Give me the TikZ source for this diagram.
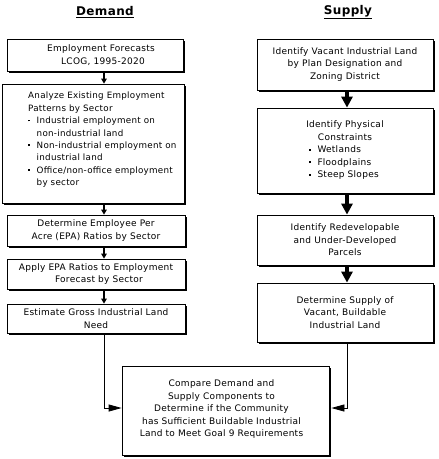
\documentclass[tikz,border=0pt]{standalone}
\usepackage{fontspec}
\setmainfont{DejaVu Sans}[LetterSpace=3]
\usetikzlibrary{arrows.meta,shadows,calc}
\newcommand{\bul}{\makebox[8.5pt][l]{\rule[2.3pt]{1.7pt}{1.7pt}}}
\begin{document}
\begin{tikzpicture}[x=1pt,y=-1pt,
  box/.style={draw=black, line width=0.8pt, fill=white,
    general shadow={fill=black, shadow xshift=2pt, shadow yshift=-2pt},
    align=center, inner sep=0pt,
    font=\fontsize{9}{12.5}\selectfont},
  txt/.style={align=left, inner sep=0pt, font=\fontsize{8.75}{12.4}\selectfont},
  title/.style={font=\fontsize{12}{13}\selectfont\bfseries, inner sep=0pt},
  sarrow/.style={line width=2.2pt, -{Triangle[width=5.5pt,length=5pt]}},
  barrow/.style={line width=3.5pt, -{Triangle[width=11pt,length=11pt]}},
  harrow/.style={line width=0.8pt, -{Triangle[width=7pt,length=13pt]}}]
\useasboundingbox (0,0) rectangle (439,459);

\node[title] (tD) at (105,12) {\underline{Demand}};
\node[title] (tS) at (348,12) {\underline{Supply}};

% Demand column
\node[box, minimum width=176pt, minimum height=32pt] (b1) at (95,55)
  {\hspace*{12pt}Employment Forecasts\\ \hspace*{16pt}LCOG, 1995-2020};
\node[box, minimum width=182pt, minimum height=119pt] (b2) at (93,143.5) {};
\node[txt, anchor=north west] (b2t) at (28,92)
  {Analyze Existing Employment\\
   Patterns by Sector\\
   \bul Industrial employment on\\
   \hspace*{8.5pt}non-industrial land\\
   \bul Non-industrial employment on\\
   \hspace*{8.5pt}industrial land\\
   \bul Office/non-office employment\\
   \hspace*{8.5pt}by sector};
\node[box, minimum width=178pt, minimum height=31pt] (b3) at (96,230.5)
  {Determine Employee Per\\ Acre (EPA) Ratios by Sector};
\node[box, minimum width=178pt, minimum height=30pt] (b4) at (96,274)
  {\raisebox{-2pt}{Apply EPA Ratios to Employment}\\
   \raisebox{-2pt}{\hspace*{6pt}Forecast by Sector}};
\node[box, minimum width=178pt, minimum height=29pt] (b5) at (96,318.5)
  {\raisebox{-3pt}{Estimate Gross Industrial Land}\\ \raisebox{-3pt}{Need}};

% Supply column
\node[box, minimum width=176pt, minimum height=51pt] (r1) at (345,64.5)
  {Identify Vacant Industrial Land\\ by Plan Designation and\\ Zoning District};
\node[box, minimum width=176pt, minimum height=85pt] (r2) at (345,150.5)
  {Identify Physical\\ Constraints\\
   \makebox[72pt][l]{\bul Wetlands}\\
   \makebox[72pt][l]{\bul Floodplains}\\
   \makebox[72pt][l]{\bul Steep Slopes}};
\node[box, minimum width=176pt, minimum height=50pt] (r3) at (345,240)
  {Identify Redevelopable\\ and Under-Developed\\ Parcels};
\node[box, minimum width=176pt, minimum height=59pt] (r4) at (345,312.5)
  {Determine Supply of\\ Vacant, Buildable\\ Industrial Land};

% Compare
\node[box, minimum width=207pt, minimum height=89pt] (cmp) at (225.5,410.5)
  {\raisebox{4pt}{Compare Demand and\hspace*{8pt}}\\
   \raisebox{4pt}{Supply Components to\hspace*{8pt}}\\
   \raisebox{4pt}{Determine if the Community\hspace*{8pt}}\\
   \raisebox{4pt}{has Sufficient Buildable Industrial\hspace*{8pt}}\\
   \raisebox{4pt}{Land to Meet Goal 9 Requirements\hspace*{8pt}}};

\coordinate (lx) at (104,0);
\coordinate (rx) at (347,0);
\coordinate (jy) at (0,408);

\draw[sarrow] ($(b1.south -| lx)+(0,1.5)$) -- (b2.north -| lx);
\draw[sarrow] ($(b2.south -| lx)+(0,1.5)$) -- (b3.north -| lx);
\draw[sarrow] ($(b3.south -| lx)+(0,1.5)$) -- (b4.north -| lx);
\draw[sarrow] ($(b4.south -| lx)+(0,1.5)$) -- (b5.north -| lx);

\draw[barrow] ($(r1.south -| rx)+(0,1.5)$) -- (r2.north -| rx);
\draw[barrow] ($(r2.south -| rx)+(0,1.5)$) -- (r3.north -| rx);
\draw[barrow] ($(r3.south -| rx)+(0,1.5)$) -- (r4.north -| rx);

\draw[harrow] (b5.south -| lx) -- (lx |- jy) -- (cmp.west |- jy);
\draw[harrow] (r4.south -| rx) -- (rx |- jy) -- ($(cmp.east |- jy)+(2,0)$);
\end{tikzpicture}
\end{document}
